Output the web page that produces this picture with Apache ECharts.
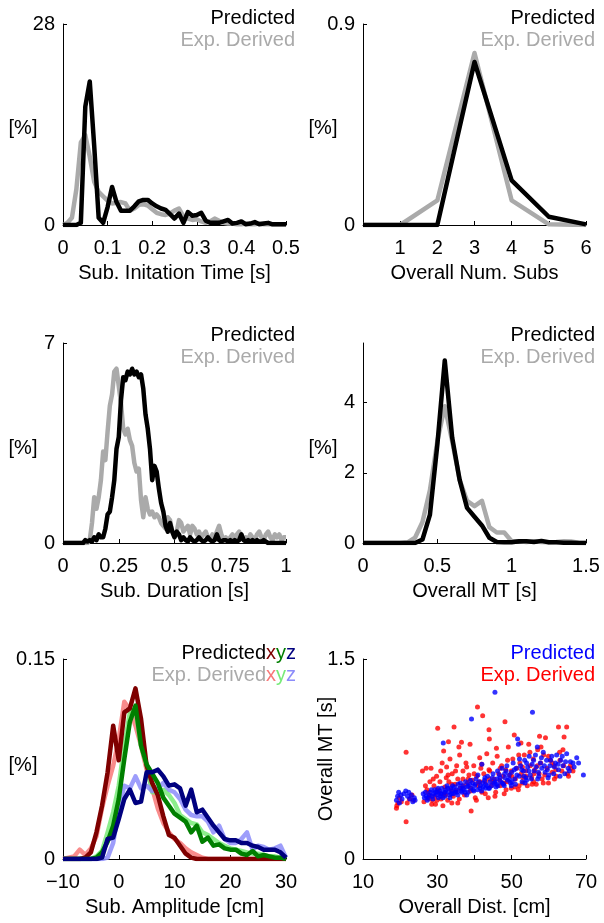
<!DOCTYPE html>
<html>
<head>
<meta charset="utf-8">
<script src="https://cdn.jsdelivr.net/npm/echarts@6.0.0/dist/echarts.min.js"></script>
<style>
  html, body { margin: 0; padding: 0; background: #fff; }
  #main { width: 604px; height: 923px; }
</style>
</head>
<body>
<div id="main"></div>
<script>
// sub. initiation time histogram
var initT = [0,0.01,0.02,0.03,0.04,0.05,0.06,0.07,0.08,0.09,0.1,0.11,0.12,0.13,0.14,0.15,0.16,0.17,0.18,0.19,0.2,0.21,0.22,0.23,0.24,0.25,0.26,0.27,0.28,0.29,0.3,0.31,0.32,0.33,0.34,0.35,0.36,0.37,0.38,0.39,0.4,0.41,0.42,0.43,0.44,0.45,0.46,0.47,0.48,0.49,0.5];
var initPred = [0,0,0,0,0.3,16.5,20,11,1.0,0.3, 2.5,5.3,3.2,2.0,2.0,2.0,2.6,3.3,3.5,3.5, 3.0,2.6,2.3,2.1,1.5,0.9,1.6,0.3,1.8,1.3, 1.4,1.7,0.6,0.3,0.3,0.3,0.5,0.7,0.2,0.3, 0.5,0.1,0.2,0.4,0.1,0.2,0.3,0.1,0.1,0.1,0.1];
var initExp = [0,0.3,1.0,5,11.5,12.5,9.5,6,4.6,4.0, 3.4,3.0,3.1,3.2,3.0,2.0,2.3,2.8,2.9,2.7, 2.2,1.7,1.5,1.4,1.6,2.0,2.3,1.2,0.9,0.7, 0.8,0.5,0.3,0.5,0.9,0.6,0.3,0.2,0.2,0.1, 0.1,0.2,0.1,0.1,0.2,0.1,0.1,0.1,0.1,0.1,0.1];

// overall number of subs
var numSubs = [0,1,2,3,4,5,6];
var subsPred = [0,0,0,0.73,0.2,0.037,0.003];
var subsExp = [0,0,0.11,0.77,0.11,0.003,0];

// sub. duration histogram
var durT = [0,0.01,0.02,0.03,0.04,0.05,0.06,0.07,0.08,0.09,0.1,0.11,0.12,0.13,0.14,0.15,0.16,0.17,0.18,0.19,0.2,0.21,0.22,0.23,0.24,0.25,0.26,0.27,0.28,0.29,0.3,0.31,0.32,0.33,0.34,0.35,0.36,0.37,0.38,0.39,0.4,0.41,0.42,0.43,0.44,0.45,0.46,0.47,0.48,0.49,0.5,0.51,0.52,0.53,0.54,0.55,0.56,0.57,0.58,0.59,0.6,0.61,0.62,0.63,0.64,0.65,0.66,0.67,0.68,0.69,0.7,0.71,0.72,0.73,0.74,0.75,0.76,0.77,0.78,0.79,0.8,0.81,0.82,0.83,0.84,0.85,0.86,0.87,0.88,0.89,0.9,0.91,0.92,0.93,0.94,0.95,0.96,0.97,0.98,0.99,1];
var durPred = [0,0,0,0,0,0,0,0,0,0, 0.1,0.05,0.1,0.05,0.2,0.1,0.3,0.2,0.2,0.5, 1.0,1.1,1.6,2.2,3.3,3.7,5.0,5.8,5.7,6.0, 5.9,6.1,5.9,6.0,5.8,5.9,5.4,4.5,4.0,3.3, 2.2,2.7,2.5,1.9,1.4,1.1,0.6,0.4,0.7,0.4, 0.2,0.4,0.3,0.1,0.2,0.1,0.05,0.2,0.1,0.05, 0.1,0.2,0.1,0.05,0.1,0.2,0.1,0.05,0.1,0.3, 0.1,0.05,0.1,0.1,0.05,0.1,0.05,0.1,0.05,0.1, 0.3,0.1,0.05,0.1,0.05,0.1,0.05,0.1,0.05,0.05, 0.1,0.05,0,0,0,0,0,0,0,0,0];
var durExp = [0,0,0,0,0,0,0,0,0,0, 0,0,0.1,0.7,1.6,1.2,1.6,2.2,3.2,2.9, 3.9,4.8,5.2,6.0,6.1,5.5,4.9,4.0,3.8,4.0, 3.6,3.4,2.8,2.5,2.6,1.5,0.9,1.6,1.2,1.0, 1.1,0.9,1.0,0.9,0.7,0.6,0.5,0.9,0.8,0.4, 0.2,0.4,0.8,0.7,0.4,0.5,0.6,0.3,0.6,0.5, 0.3,0.4,0.2,0.3,0.4,0.2,0.15,0.3,0.2,0.4, 0.6,0.3,0.1,0.2,0.1,0.2,0.3,0.1,0.3,0.4, 0.2,0.1,0.2,0.1,0.3,0.2,0.1,0.3,0.4,0.2, 0.1,0.3,0.4,0.2,0.1,0.3,0.2,0.3,0.1,0.2,0.2];

// overall movement time histogram
var mtT = [0,0.05,0.1,0.15,0.2,0.25,0.3,0.35,0.4,0.45,0.5,0.55,0.6,0.65,0.7,0.75,0.8,0.85,0.9,0.95,1,1.05,1.1,1.15,1.2,1.25,1.3,1.35,1.4,1.45,1.5];
var mtPred = [0,0,0,0,0,0,0,0,0.1,0.8,2.8,5.2,3.0,1.8,1.0,0.75,0.5,0.15,0.03,0.02,0.02,0.05,0.05,0.03,0.06,0.02,0.02,0.01,0.01,0,0];
var mtExp = [0,0,0,0,0,0,0.02,0.15,0.6,1.5,2.9,3.9,2.9,1.8,1.2,1.05,1.2,0.45,0.3,0.3,0.05,0.05,0.03,0.05,0.03,0.02,0.03,0.05,0.04,0.01,0];

// sub. amplitude histograms (x, y, z)
var amp = [-10,-9,-8,-7,-6,-5,-4,-3,-2,-1,0,1,2,3,4,5,6,7,8,9,10,11,12,13,14,15,16,17,18,19,20,21,22,23,24,25,26,27,28,29,30];
var ampXPred = [0,0,0,0,0.001,0.005,0.02,0.04,0.065,0.10,0.074,0.11,0.113,0.128,0.105,0.07,0.057,0.048,0.032,0.018,0.016,0.01,0.004,0.001,0,0,0,0,0,0,0,0,0,0,0,0,0,0,0,0,0];
var ampXExp = [0,0.001,0.002,0.007,0.003,0.008,0.017,0.038,0.055,0.07,0.09,0.118,0.112,0.1,0.085,0.067,0.053,0.038,0.027,0.02,0.015,0.012,0.008,0.005,0.003,0.001,0,0,0,0,0,0,0,0,0,0,0,0,0,0,0];
var ampYPred = [0,0,0,0,0,0,0.001,0.005,0.013,0.025,0.045,0.075,0.103,0.115,0.085,0.071,0.064,0.057,0.046,0.04,0.034,0.031,0.028,0.02,0.025,0.013,0.016,0.01,0.011,0.008,0.007,0.007,0.004,0.003,0.006,0.002,0.003,0.002,0.001,0.001,0];
var ampYExp = [0,0,0,0,0,0,0.002,0.006,0.02,0.035,0.055,0.085,0.11,0.112,0.085,0.07,0.05,0.05,0.052,0.048,0.042,0.033,0.03,0.027,0.026,0.02,0.018,0.015,0.012,0.01,0.008,0.007,0.006,0.005,0.004,0.004,0.003,0.002,0.002,0.001,0];
var ampZPred = [0,0,0,0,0,0,0,0.001,0.015,0.016,0.03,0.045,0.052,0.042,0.043,0.065,0.065,0.067,0.062,0.055,0.056,0.053,0.04,0.052,0.035,0.037,0.031,0.025,0.02,0.015,0.014,0.014,0.012,0.012,0.01,0.009,0.007,0.007,0.007,0.005,0.001];
var ampZExp = [0,0,0,0,0,0,0,0,0.001,0.012,0.037,0.055,0.053,0.062,0.053,0.055,0.051,0.053,0.057,0.052,0.05,0.045,0.037,0.033,0.032,0.032,0.028,0.02,0.025,0.015,0.012,0.012,0.015,0.02,0.007,0.01,0.009,0.007,0.008,0.01,0.001];

// overall distance [cm] vs overall MT [s]
var predPts = [
  [19.0,0.44],[19.3,0.47],[19.6,0.50],[20.2,0.48],[20.5,0.45],[21.0,0.49],[21.5,0.51],[22.0,0.47],[22.6,0.45],[23.0,0.48],[23.4,0.43],[23.8,0.46],[19.8,0.42],[22.3,0.50],
  [26.2,0.49],[26.5,0.46],[27.0,0.47],[27.3,0.44],[27.8,0.48],[28.1,0.50],[28.5,0.47],[29.0,0.49],[29.3,0.52],[29.7,0.48],[30.0,0.50],[30.3,0.46],[30.6,0.51],[31.0,0.49],[31.2,0.53],[31.6,0.87],[31.8,0.50],[32.0,0.47],[32.3,0.52],[32.6,0.55],[33.0,0.50],[33.3,0.48],[33.6,0.53],[34.0,0.51],[34.3,0.49],[34.6,0.54],[35.0,0.52],[35.3,0.50],[35.6,0.56],
  [36.0,0.53],[36.4,0.51],[36.8,0.55],[37.2,0.52],[37.6,0.58],[38.0,0.54],[38.3,0.50],[38.7,0.56],[39.2,1.05],[39.0,0.53],[39.5,0.57],[40.0,0.55],[40.4,0.60],[40.8,0.52],[41.2,0.58],[41.6,0.55],[42.0,0.71],[42.3,0.54],[42.7,0.59],[43.0,0.56],[43.5,0.62],[43.8,0.53],[44.2,0.58],[44.6,0.55],[45.0,0.64],[45.5,1.25],[45.3,0.57],
  [46.0,0.60],[46.3,0.55],[46.7,0.63],[47.0,0.58],[47.4,0.68],[47.8,0.56],[48.2,0.61],[48.5,0.66],[48.9,0.59],[49.3,0.63],[49.7,0.57],[50.0,0.65],[50.4,0.72],[50.8,0.60],[51.2,0.68],[51.6,0.90],[51.8,0.86],[52.0,0.62],[52.4,0.70],[52.8,0.58],[53.2,0.66],[53.5,0.74],[53.9,0.61],[54.3,0.69],[54.7,0.77],[55.0,0.63],[55.6,1.10],
  [55.5,0.71],[56.0,0.66],[56.4,0.78],[56.9,0.84],[57.3,0.62],[57.7,0.72],[58.1,0.68],[58.5,0.80],[59.0,0.65],[59.4,0.74],[59.8,0.61],[60.3,0.70],[60.8,0.77],[61.3,0.64],[61.8,0.72],[62.1,0.78],[62.6,0.67],[63.2,0.74],[63.8,0.70],[64.3,0.64],[64.8,0.79],[65.2,0.68],[65.8,0.73],[66.5,0.72],[67.5,0.76],[68.0,0.72],[69.3,0.63],
  [30.8,0.47],[33.8,0.49],[36.6,0.50],[39.8,0.51],[42.9,0.53],[45.8,0.54],[48.0,0.55],[51.0,0.56],[54.0,0.59],[57.0,0.60],[60.0,0.63],[63.0,0.62],
  [27.5,0.46],[28.8,0.45],[29.5,0.50],[30.2,0.53],[30.9,0.49],[31.5,0.46],[32.1,0.50],[32.8,0.53],[33.4,0.46],[34.1,0.55],[34.8,0.50],[35.5,0.48],[36.2,0.57],[36.9,0.53],[37.5,0.50],[38.2,0.55],[38.9,0.59],[39.6,0.52],[40.2,0.56],[40.9,0.63],[41.5,0.53],[42.2,0.57],[42.8,0.61],[43.4,0.55],[44.0,0.53],[44.8,0.61],[45.5,0.58],[46.2,0.66],[46.9,0.61],[47.5,0.57],[48.1,0.64],[48.7,0.70],[49.4,0.60],[50.1,0.58],[50.7,0.67],[51.4,0.63],[52.1,0.75],[52.7,0.67],[53.3,0.62],[54.0,0.72],[54.6,0.66],[55.3,0.60],[55.9,0.74],[56.6,0.69],[57.2,0.65],[58.0,0.76],[58.8,0.70],[59.6,0.67],[60.5,0.74],[61.5,0.69],[62.5,0.71],[63.6,0.77],[64.5,0.73],[65.5,0.66],[66.8,0.69],[37.9,0.48],[41.9,0.51],[45.9,0.56],[49.9,0.55],[53.6,0.57],[26.8,0.50],[28.4,0.52],[24.0,0.44]
];
var expPts = [
  [19.1,0.40],[19.4,0.42],[19.8,0.46],[20.3,0.43],[21.6,0.80],[21.6,0.28],[21.9,0.42],[22.5,0.45],[23.2,0.48],[23.6,0.44],[19.0,0.38],
  [26.0,0.66],[26.4,0.43],[27.0,0.68],[27.2,0.52],[27.6,0.45],[28.0,0.58],[28.3,0.68],[28.7,0.44],[29.1,0.55],[29.5,0.41],[29.8,0.62],[30.1,0.98],[30.4,0.50],[30.7,0.58],[31.0,0.45],[31.3,0.72],[31.7,0.81],[32.0,0.54],[32.4,0.61],[32.5,0.69],[32.8,0.44],[33.1,0.58],[33.4,0.75],[33.7,0.52],[34.0,0.64],[34.5,0.99],[34.3,0.47],[34.8,0.56],[35.2,0.70],[35.5,0.60],
  [35.8,0.84],[36.2,0.53],[36.5,0.875],[36.9,0.66],[37.3,0.48],[37.7,0.72],[38.1,0.57],[38.5,0.63],[38.8,0.86],[39.1,0.36],[39.4,0.59],[39.8,0.70],[40.2,0.46],[40.8,1.14],[40.6,0.62],[41.0,0.55],[41.4,0.76],[41.7,0.68],[42.2,1.075],[42.0,0.50],[42.5,0.64],[42.9,0.58],[43.3,0.79],[43.9,0.97],[43.7,0.46],[44.1,0.66],[44.5,0.55],[44.9,0.72],
  [45.3,0.60],[45.7,0.50],[46.1,0.77],[46.5,0.64],[46.9,0.55],[47.3,0.70],[47.7,0.62],[48.2,1.03],[48.0,0.49],[48.4,0.67],[48.8,0.58],[49.1,0.84],[49.5,0.63],[49.9,0.53],[50.3,0.75],[50.7,0.93],[51.0,0.60],[51.4,0.68],[51.8,0.52],[52.2,0.72],[52.6,0.64],[53.0,0.57],[53.4,0.78],[53.8,0.66],[54.2,0.55],[54.6,0.86],[55.0,0.70],
  [55.4,0.61],[55.8,0.75],[56.2,0.67],[56.6,0.56],[57.0,0.82],[57.4,0.64],[57.8,0.72],[58.2,0.60],[58.6,0.78],[59.1,0.91],[59.5,0.68],[59.9,0.57],[60.4,0.74],[60.9,0.65],[61.4,0.70],[62.0,0.62],[62.6,0.99],[63.0,0.74],[63.5,0.66],[64.1,0.915],[64.8,0.99],[65.3,0.62],[65.8,0.70],[66.5,0.66],[63.8,0.82],
  [27.5,0.50],[30.0,0.52],[32.2,0.48],[35.0,0.51],[37.0,0.55],[39.0,0.53],[41.5,0.58],[44.0,0.60],[46.8,0.59],[50.0,0.62],[53.0,0.61],[56.0,0.64],[29.3,0.47],[33.9,0.56],[38.3,0.60],
  [26.8,0.55],[27.9,0.47],[28.9,0.60],[29.9,0.44],[30.9,0.66],[31.9,0.49],[32.9,0.63],[33.9,0.42],[34.9,0.66],[35.9,0.45],[36.9,0.60],[37.9,0.69],[38.9,0.51],[39.9,0.64],[40.9,0.57],[41.9,0.71],[42.9,0.49],[43.9,0.67],[44.9,0.58],[45.9,0.83],[46.9,0.68],[47.9,0.57],[48.9,0.74],[49.9,0.66],[50.9,0.54],[51.9,0.78],[52.9,0.69],[53.9,0.62],[54.9,0.80],[55.9,0.58],[56.9,0.70],[57.9,0.84],[58.9,0.63],[59.9,0.77],[60.9,0.72],[61.9,0.67],[62.9,0.80],[64.0,0.70],[65.0,0.64],[66.0,0.68],
  [28.5,0.41],[31.5,0.40],[35.5,0.42],[40.5,0.44],[45.5,0.47],[48.5,0.52],[52.0,0.55],[55.5,0.56],[58.5,0.57],[61.5,0.60],[36.0,0.78],[44.0,0.90],[52.5,0.87],[57.5,0.92],[33.0,0.88]
];

var FONT = 'Liberation Sans, Arial, Helvetica, sans-serif';
var FS = 20;
var GRAY = '#aaaaaa';

function pairs(xs, ys) {
  return xs.map(function (x, i) { return [x, ys[i]]; });
}

function xAx(gi, min, max, interval, name, fmt) {
  return {
    type: 'value', gridIndex: gi, min: min, max: max, interval: interval,
    name: name, nameLocation: 'middle', nameGap: 38, nameMoveOverlap: false,
    nameTextStyle: { fontSize: FS, color: '#000', fontFamily: FONT },
    axisLine: { onZero: false, lineStyle: { color: '#000', width: 1 } },
    axisTick: { inside: true, length: 4, lineStyle: { color: '#000' } },
    axisLabel: { fontSize: FS, color: '#000', fontFamily: FONT, margin: 13, formatter: fmt },
    splitLine: { show: false }
  };
}

function yAx(gi, max, interval, fmt) {
  return {
    type: 'value', gridIndex: gi, min: 0, max: max, interval: interval,
    axisLine: { show: true, onZero: false, lineStyle: { color: '#000', width: 1 } },
    axisTick: { show: true, inside: true, length: 4, lineStyle: { color: '#000' } },
    axisLabel: { fontSize: FS, color: '#000', fontFamily: FONT, margin: 8, formatter: fmt },
    splitLine: { show: false }
  };
}

function line(gi, data, color, z) {
  return {
    type: 'line', xAxisIndex: gi, yAxisIndex: gi, data: data,
    showSymbol: false, symbol: 'none', z: z || 2,
    lineStyle: { color: color, width: 4.5, join: 'round' },
    emphasis: { disabled: true }
  };
}

function txt(x, y, text, color, align) {
  return {
    type: 'text', x: x, y: y, silent: true,
    style: { text: text, fill: color, fontSize: FS, fontFamily: FONT, align: align || 'right', verticalAlign: 'middle' }
  };
}

var chart = echarts.init(document.getElementById('main'), null, { renderer: 'canvas' });

var yMt = yAx(5, 1.5, 1.5);
yMt.name = 'Overall MT [s]';
yMt.nameLocation = 'middle';
yMt.nameRotate = 90;
yMt.nameGap = 27;
yMt.nameMoveOverlap = false;
yMt.nameTextStyle = { fontSize: FS, color: '#000', fontFamily: FONT };

var y4 = yAx(3, 5.7, 2);
y4.axisLabel.showMaxLabel = false;

var option = {
  animation: false,
  backgroundColor: '#fff',
  grid: [
    { left: 63, top: 24, width: 223, height: 201 },
    { left: 363, top: 24, width: 223, height: 201 },
    { left: 63, top: 343, width: 223, height: 200 },
    { left: 363, top: 343, width: 223, height: 200 },
    { left: 63, top: 659, width: 223, height: 200 },
    { left: 363, top: 659, width: 223, height: 200 }
  ],
  xAxis: [
    xAx(0, 0, 0.5, 0.1, 'Sub. Initation Time [s]'),
    xAx(1, 0, 6, 1, 'Overall Num. Subs', function (v) { return v === 0 ? '' : v; }),
    xAx(2, 0, 1, 0.25, 'Sub. Duration [s]'),
    xAx(3, 0, 1.5, 0.5, 'Overall MT [s]'),
    xAx(4, -10, 30, 10, 'Sub. Amplitude [cm]', function (v) { return String(v).replace('-', '\u2212'); }),
    xAx(5, 10, 70, 10, 'Overall Dist. [cm]', function (v) { return [10, 30, 50, 70].indexOf(v) >= 0 ? v : ''; })
  ],
  yAxis: [
    yAx(0, 28, 28),
    yAx(1, 0.9, 0.9),
    yAx(2, 7, 7),
    y4,
    yAx(4, 0.15, 0.15),
    yMt
  ],
  series: [
    line(0, pairs(initT, initExp), GRAY, 2),
    line(0, pairs(initT, initPred), '#000', 3),
    line(1, pairs(numSubs, subsExp), GRAY, 2),
    line(1, pairs(numSubs, subsPred), '#000', 3),
    line(2, pairs(durT, durExp), GRAY, 2),
    line(2, pairs(durT, durPred), '#000', 3),
    line(3, pairs(mtT, mtExp), GRAY, 2),
    line(3, pairs(mtT, mtPred), '#000', 3),
    line(4, pairs(amp, ampXExp), 'rgba(248,120,120,0.85)', 2),
    line(4, pairs(amp, ampYExp), 'rgba(120,235,120,0.85)', 2),
    line(4, pairs(amp, ampZExp), 'rgba(140,140,250,0.85)', 2),
    line(4, pairs(amp, ampXPred), '#7f0000', 3),
    line(4, pairs(amp, ampYPred), '#007f00', 3),
    line(4, pairs(amp, ampZPred), '#00007f', 3),
    {
      type: 'scatter', xAxisIndex: 5, yAxisIndex: 5, data: expPts,
      symbolSize: 5, itemStyle: { color: '#ff0000' }, z: 2
    },
    {
      type: 'scatter', xAxisIndex: 5, yAxisIndex: 5, data: predPts,
      symbolSize: 5, itemStyle: { color: '#0000ff' }, z: 3
    }
  ],
  graphic: [
    txt(295, 18, 'Predicted', '#000'),
    txt(295, 40, 'Exp. Derived', GRAY),
    txt(595, 18, 'Predicted', '#000'),
    txt(595, 40, 'Exp. Derived', GRAY),
    txt(295, 335, 'Predicted', '#000'),
    txt(295, 357, 'Exp. Derived', GRAY),
    txt(595, 335, 'Predicted', '#000'),
    txt(595, 357, 'Exp. Derived', GRAY),
    txt(595, 653, 'Predicted', '#0000ff'),
    txt(595, 675, 'Exp. Derived', '#ff0000'),
    {
      type: 'text', x: 296, y: 653, silent: true,
      style: {
        text: '{k|Predicted}{r|x}{g|y}{b|z}', fontSize: FS, fontFamily: FONT,
        align: 'right', verticalAlign: 'middle',
        rich: { k: { fill: '#000' }, r: { fill: '#7f0000' }, g: { fill: '#007f00' }, b: { fill: '#00007f' } }
      }
    },
    {
      type: 'text', x: 296, y: 675, silent: true,
      style: {
        text: '{k|Exp. Derived}{r|x}{g|y}{b|z}', fontSize: FS, fontFamily: FONT,
        align: 'right', verticalAlign: 'middle',
        rich: { k: { fill: GRAY }, r: { fill: '#f87878' }, g: { fill: '#78eb78' }, b: { fill: '#8c8cfa' } }
      }
    },
    txt(23, 128, '[%]', '#000', 'center'),
    txt(323, 128, '[%]', '#000', 'center'),
    txt(23, 448, '[%]', '#000', 'center'),
    txt(323, 448, '[%]', '#000', 'center'),
    txt(23, 765, '[%]', '#000', 'center')
  ]
};

chart.setOption(option);
</script>
</body>
</html>
